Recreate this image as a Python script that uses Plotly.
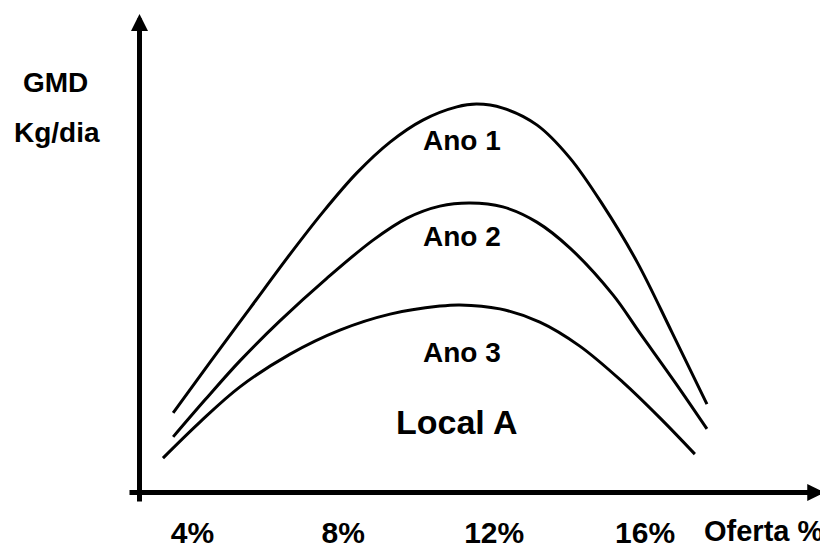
import plotly.graph_objects as go

# ---- data (Oferta % vs GMD kg/dia) ----
ano1_x = [3.49, 4.47, 5.53, 6.59, 7.46, 8.36, 9.24, 10.11, 11.01, 11.54, 12.23, 13.13, 14.01, 14.88, 15.79, 16.71, 17.64]
ano1_y = [0.199, 0.326, 0.461, 0.596, 0.701, 0.799, 0.876, 0.931, 0.964, 0.971, 0.961, 0.919, 0.836, 0.719, 0.576, 0.401, 0.221]

ano2_x = [3.49, 4.33, 5.26, 6.32, 7.57, 8.79, 9.69, 10.56, 11.36, 12.23, 13.13, 14.01, 15.15, 15.86, 16.79, 17.64]
ano2_y = [0.139, 0.231, 0.329, 0.429, 0.536, 0.631, 0.686, 0.716, 0.724, 0.714, 0.676, 0.611, 0.494, 0.399, 0.276, 0.159]

ano3_x = [3.22, 4.20, 5.26, 6.59, 7.91, 9.24, 10.56, 11.09, 12.15, 13.21, 14.27, 15.41, 16.40, 17.32]
ano3_y = [0.086, 0.176, 0.264, 0.346, 0.406, 0.446, 0.466, 0.469, 0.459, 0.426, 0.366, 0.276, 0.186, 0.096]

tick_vals = [4, 8, 12, 16]
tick_text = ["4%", "8%", "12%", "16%"]

series_names = ["Ano 1", "Ano 2", "Ano 3"]
label_x = [11.15, 11.15, 11.15]
label_y = [0.881, 0.639, 0.351]

X_RANGE = [-1.100, 20.637]
Y_RANGE = [-0.13625, 1.23125]
FONT = "Liberation Sans, Arial, sans-serif"

fig = go.Figure()
for xs, ys, name in [(ano1_x, ano1_y, "Ano 1"), (ano2_x, ano2_y, "Ano 2"), (ano3_x, ano3_y, "Ano 3")]:
    fig.add_trace(go.Scatter(x=xs, y=ys, mode="lines", name=name,
                             line=dict(color="black", width=3, shape="spline", smoothing=1.0),
                             showlegend=False, hoverinfo="skip", cliponaxis=False))

annotations = []
# axes drawn as arrows
annotations.append(dict(x=2.598, y=1.196, ax=2.598, ay=-0.026, xref="x", yref="y", axref="x", ayref="y",
                        showarrow=True, arrowhead=2, arrowwidth=5, arrowsize=0.68, arrowcolor="black",
                        standoff=0, text=""))
annotations.append(dict(x=20.75, y=0, ax=2.293, ay=0, xref="x", yref="y", axref="x", ayref="y",
                        showarrow=True, arrowhead=2, arrowwidth=5, arrowsize=0.68, arrowcolor="black",
                        standoff=0, text=""))
for name, lx, ly in zip(series_names, label_x, label_y):
    annotations.append(dict(x=lx, y=ly, xref="x", yref="y", text=name, showarrow=False,
                            font=dict(family=FONT, size=28, color="black", weight="bold"),
                            xanchor="center", yanchor="middle"))
annotations.append(dict(x=11.01, y=0.176, xref="x", yref="y", text="Local A", showarrow=False,
                        font=dict(family=FONT, size=34, color="black", weight="bold"),
                        xanchor="center", yanchor="middle"))
annotations.append(dict(x=0.38, y=1.025, xref="x", yref="y", text="GMD", showarrow=False,
                        font=dict(family=FONT, size=28, color="black", weight="bold"),
                        xanchor="center", yanchor="middle"))
annotations.append(dict(x=0.41, y=0.899, xref="x", yref="y", text="Kg/dia", showarrow=False,
                        font=dict(family=FONT, size=28, color="black", weight="bold"),
                        xanchor="center", yanchor="middle"))
annotations.append(dict(x=17.5, y=-0.097, xref="x", yref="y", text="Oferta %", showarrow=False,
                        font=dict(family=FONT, size=29, color="black", weight="bold"),
                        xanchor="left", yanchor="middle"))

fig.update_layout(
    width=820, height=547,
    margin=dict(l=0, r=0, t=0, b=0, pad=0),
    paper_bgcolor="white", plot_bgcolor="white",
    template="none",
    annotations=annotations,
    xaxis=dict(range=X_RANGE, anchor="free", position=0.09963, showline=False, showgrid=False,
               zeroline=False, tickvals=tick_vals, ticktext=tick_text, ticks="",
               ticklabelstandoff=19, automargin=False,
               tickfont=dict(family=FONT, size=30, color="black", weight="bold")),
    yaxis=dict(range=Y_RANGE, showline=False, showgrid=False, zeroline=False,
               showticklabels=False, ticks="", automargin=False),
)

fig.write_html("out.html", config={"displayModeBar": False},
               post_script="document.body.style.margin='0px';document.body.style.padding='0px';document.body.style.overflow='hidden';")
